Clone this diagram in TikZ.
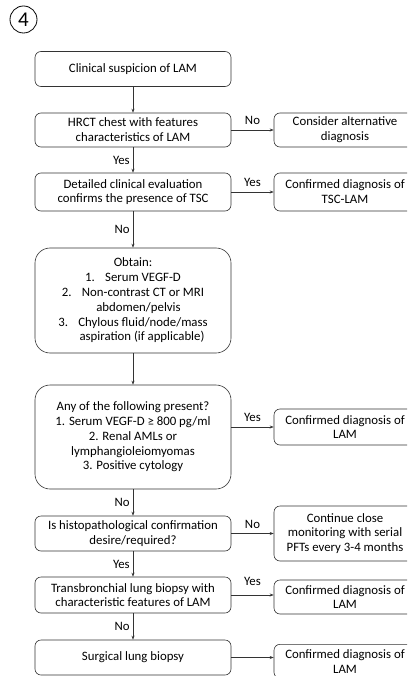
\documentclass[tikz,border=0pt]{standalone}
\usepackage{fontspec}
\setmainfont{Carlito}
\usetikzlibrary{arrows.meta}

\tikzset{
  box/.style = {draw=black!80, line width=0.6pt, rounded corners=6pt, align=center,
                inner sep=2pt, font=\fontsize{12.8}{14.8}\selectfont},
  leftbox/.style = {box, minimum width=196pt},
  rightbox/.style = {box, minimum width=142pt},
  arr/.style = {draw=black!80, line width=0.6pt, -{Stealth[length=4pt, width=3pt]}},
  lab/.style = {font=\fontsize{12.8}{14}\selectfont, inner sep=3pt}
}

\begin{document}
\begin{tikzpicture}[x=1pt, y=-1pt]
\path[use as bounding box, clip] (0,0) rectangle (407,676);

% step number
\node[draw, circle, line width=0.8pt, minimum size=27pt, inner sep=0pt, font=\fontsize{21}{21}\selectfont] (num) at (23.5,19.5) {4};

% main column
\node[leftbox, minimum height=35pt] (clin) at (133,69) {Clinical suspicion of LAM};
\node[leftbox, minimum height=34pt] (hrct) at (133,130) {HRCT chest with features\\characteristics of LAM};
\node[leftbox, minimum height=38pt] (eval) at (133,192) {Detailed clinical evaluation\\confirms the presence of TSC};
\node[leftbox, minimum height=105pt, rounded corners=15pt] (obtain) at (133,300.5) {Obtain:\\
  1.\hspace{0.8em}Serum VEGF-D\\
  2.\hspace{0.8em}Non-contrast CT or MRI\\
  \hspace*{11pt}abdomen/pelvis\\
  3.\hspace{0.8em}Chylous fluid/node/mass\\
  \hspace*{18pt}aspiration (if applicable)};
\node[leftbox, minimum height=104pt, rounded corners=15pt] (any) at (133,437) {Any of the following present?\\
  1. Serum VEGF-D \symbol{"2265} 800 pg/ml\\
  2. Renal AMLs or\\
  lymphangioleiomyomas\\
  3. Positive cytology};
\node[leftbox, minimum height=35pt] (histo) at (133,533.5) {Is histopathological confirmation\\desire/required?};
\node[leftbox, minimum height=36pt] (trans) at (133,595) {Transbronchial lung biopsy with\\characteristic features of LAM};
\node[leftbox, minimum height=35pt] (surg) at (133,657.5) {Surgical lung biopsy};

% outcomes
\node[rightbox, minimum height=34pt] (alt) at (345,130) {Consider alternative\\diagnosis};
\node[rightbox, minimum height=38pt] (tsc) at (345,192) {Confirmed diagnosis of\\TSC-LAM};
\node[rightbox, minimum height=36pt] (conf1) at (345,427) {Confirmed diagnosis of\\LAM};
\node[rightbox, minimum height=55pt] (cont) at (345,533.5) {Continue close\\monitoring with serial\\PFTs every 3-4 months};
\node[rightbox, minimum height=34pt] (conf2) at (345,597) {Confirmed diagnosis of\\LAM};
\node[rightbox, minimum height=34pt, anchor=north] (conf3) at (345,644) {Confirmed diagnosis of\\LAM};

% vertical arrows
\draw[arr] (clin) -- (hrct);
\draw[arr] (hrct) -- (eval) node[lab, midway, left] {Yes};
\draw[arr] (eval) -- (obtain) node[lab, midway, left] {No};
\draw[arr] (obtain) -- (any);
\draw[arr] (any) -- (histo) node[lab, midway, left] {No};
\draw[arr] (histo) -- (trans) node[lab, midway, left] {Yes};
\draw[arr] (trans) -- (surg) node[lab, midway, left] {No};

% horizontal arrows
\draw[arr] (hrct) -- (alt) node[lab, midway, above, yshift=2pt] {No};
\draw[arr] (eval) -- (tsc) node[lab, midway, above, yshift=2pt] {Yes};
\draw[arr] (conf1.west -| any.east) -- (conf1.west) node[lab, midway, above, yshift=2pt] {Yes};
\draw[arr] (histo) -- (cont) node[lab, midway, above, yshift=2pt] {No};
\draw[arr] (trans.east) -- (trans.east -| conf2.west) node[lab, midway, above, yshift=6pt] {Yes};
\draw[arr] (surg.east) -- (surg.east -| conf3.west);
\end{tikzpicture}
\end{document}
